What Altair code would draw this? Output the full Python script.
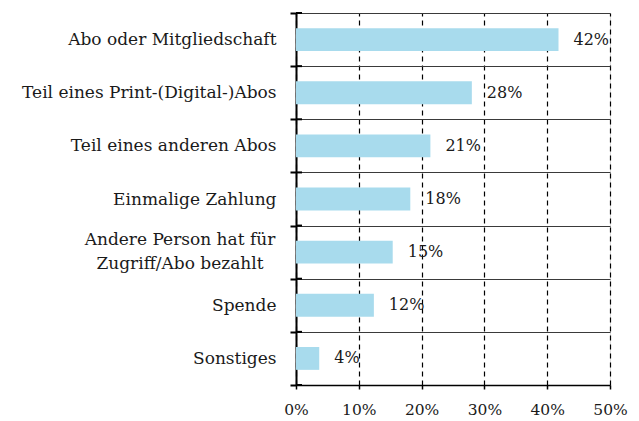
import altair as alt
import pandas as pd

categories = [
    "Abo oder Mitgliedschaft",
    "Teil eines Print-(Digital-)Abos",
    "Teil eines anderen Abos",
    "Einmalige Zahlung",
    "Andere Person hat für Zugriff/Abo bezahlt",
    "Spende",
    "Sonstiges",
]
values = [41.8, 28.0, 21.4, 18.2, 15.4, 12.4, 3.7]
value_labels = ["42%", "28%", "21%", "18%", "15%", "12%", "4%"]
multiline_cat = "Andere Person hat für Zugriff/Abo bezahlt"
multiline_text = ["Andere Person hat für", "Zugriff/Abo bezahlt"]
x_ticks = [0, 10, 20, 30, 40, 50]

FONT = "DejaVu Serif"
TXT = "#1a1a1a"

df = pd.DataFrame({"cat": categories, "val": values, "lab": value_labels})
df_ml = pd.DataFrame({"cat": [multiline_cat], "txt": [multiline_text]})
df_edges = pd.DataFrame({"cat": categories})

y_scale = alt.Scale(domain=categories, paddingInner=0, paddingOuter=0)
x_scale = alt.Scale(domain=[0, 50], nice=False)

y_enc = alt.Y(
    "cat:N",
    sort=categories,
    scale=y_scale,
    title=None,
    axis=alt.Axis(
        tickBand="extent",
        grid=True,
        gridColor="#3a3a3a",
        gridWidth=1.2,
        domainColor="#000000",
        domainWidth=2,
        tickColor="#000000",
        tickWidth=2,
        tickSize=6,
        labelFont=FONT,
        labelFontSize=17,
        labelColor=TXT,
        labelPadding=14,
        labelLimit=300,
        labelExpr=f"datum.value == '{multiline_cat}' ? '' : datum.value",
    ),
)

x_enc = alt.X(
    "val:Q",
    scale=x_scale,
    title=None,
    axis=alt.Axis(
        values=x_ticks,
        grid=True,
        gridColor="#000000",
        gridDash=[5, 4],
        gridWidth=1.2,
        domainColor="#000000",
        domainWidth=1.5,
        tickColor="#000000",
        tickWidth=1.5,
        tickSize=4,
        labelFont=FONT,
        labelFontSize=15.5,
        labelColor=TXT,
        labelPadding=13,
        labelFlush=False,
        labelExpr="datum.value + '%'",
    ),
)

bars = alt.Chart(df).mark_bar(color="#a8dbed", height={"band": 0.43}).encode(
    x=x_enc, y=y_enc
)

text = alt.Chart(df).mark_text(
    align="left", baseline="middle", dx=15, font=FONT, fontSize=16, color=TXT
).encode(
    x=alt.X("val:Q", scale=x_scale),
    y=alt.Y("cat:N", sort=categories, scale=y_scale),
    text="lab:N",
)

ml = alt.Chart(df_ml).mark_text(
    align="center", baseline="middle", font=FONT, fontSize=17, color=TXT,
    lineHeight=24, dy=-12,
).encode(
    x=alt.value(-116),
    y=alt.Y("cat:N", sort=categories, scale=y_scale),
    text="txt",
)

inner_ticks = alt.Chart(df_edges).mark_rule(color="#000000", strokeWidth=2).encode(
    y=alt.Y("cat:N", sort=categories, scale=y_scale, bandPosition=0),
    x=alt.value(0),
    x2=alt.value(6),
)
inner_tick_end = alt.Chart(df_edges.tail(1)).mark_rule(color="#000000", strokeWidth=2).encode(
    y=alt.Y("cat:N", sort=categories, scale=y_scale, bandPosition=1),
    x=alt.value(0),
    x2=alt.value(6),
)

chart = alt.layer(bars, text, ml, inner_ticks, inner_tick_end).properties(
    width=314,
    height=372,
    autosize=alt.AutoSizeParams(type="none"),
    padding={"left": 288, "top": 5, "right": 21, "bottom": 34},
).configure_view(stroke=None).configure(background="white")

chart.save("out.html", embed_options={"renderer": "svg", "actions": False})
